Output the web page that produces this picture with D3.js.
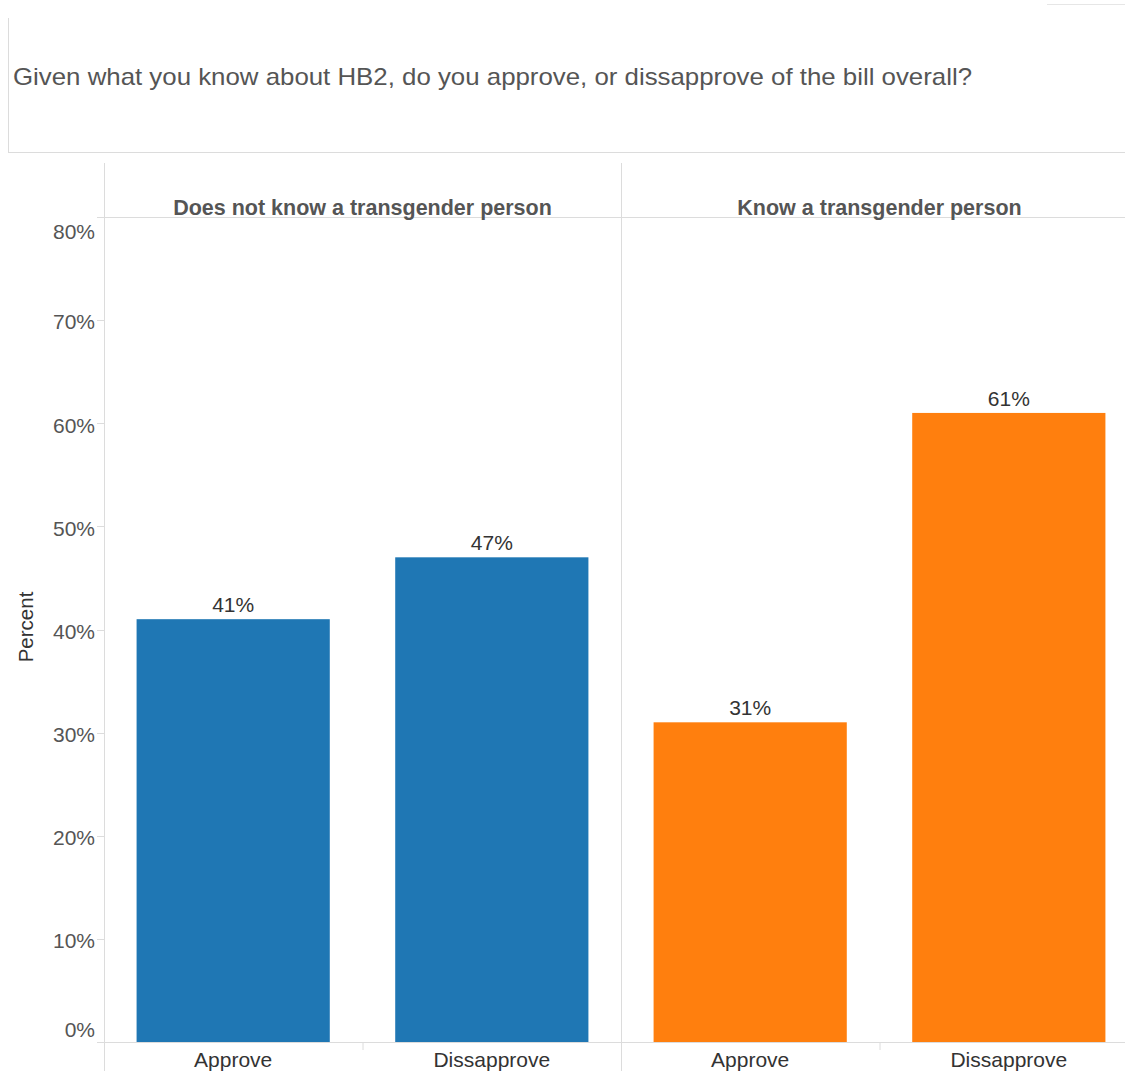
<!DOCTYPE html>
<html>
<head>
<meta charset="utf-8">
<script src="https://cdn.jsdelivr.net/npm/d3@7"></script>
<style>
  html, body { margin: 0; padding: 0; background: #fff; }
  svg { display: block; font-family: "Liberation Sans", Arial, sans-serif; }
</style>
</head>
<body>
<svg id="chart" width="1125" height="1071"></svg>
<script>
// Survey question and panels
const title = "Given what you know about HB2, do you approve, or dissapprove of the bill overall?";
const panels = ["Does not know a transgender person", "Know a transgender person"];
const categories = ["Approve", "Dissapprove"];
const doesNotKnowValues = [41, 47];
const knowValues = [31, 61];
const panelValues = [doesNotKnowValues, knowValues];
const panelColors = ["#1f77b4", "#ff7f0e"];
const yTicks = [0, 10, 20, 30, 40, 50, 60, 70, 80];

(function draw() {
  const svg = d3.select("#chart");
  const gridColor = "#dcdcdc";

  // Title box
  svg.append("line").attr("x1", 8.5).attr("x2", 8.5).attr("y1", 18).attr("y2", 152)
    .attr("stroke", gridColor);
  svg.append("line").attr("x1", 8).attr("x2", 1125).attr("y1", 152.5).attr("y2", 152.5)
    .attr("stroke", gridColor);
  svg.append("line").attr("x1", 1047).attr("x2", 1125).attr("y1", 4.5).attr("y2", 4.5)
    .attr("stroke", "#e6e6e6");
  svg.append("text").attr("x", 13).attr("y", 85)
    .attr("font-size", 24).attr("fill", "#555")
    .attr("textLength", 959).attr("lengthAdjust", "spacingAndGlyphs")
    .text(title);

  // Plot geometry
  const plotLeft = 104, panelW = 517, plotTop = 217, plotBottom = 1042;
  const y = d3.scaleLinear().domain([0, 80]).range([plotBottom, plotTop]);
  const panelX = d3.scaleBand().domain(panels).range([plotLeft, plotLeft + panelW * 2]);
  const x = d3.scaleBand().domain(categories).range([0, panelW]).paddingInner(0.253).paddingOuter(0.126);

  // Y axis ticks and labels
  const yAxis = svg.append("g");
  yAxis.selectAll("line").data(yTicks).join("line")
    .attr("x1", 97).attr("x2", plotLeft)
    .attr("y1", d => Math.round(y(d)) + 0.5).attr("y2", d => Math.round(y(d)) + 0.5)
    .attr("stroke", gridColor);
  yAxis.selectAll("text").data(yTicks).join("text")
    .attr("x", 95)
    .attr("y", d => d === 0 ? y(d) - 12 : d === 80 ? y(d) + 15 : y(d) + 2)
    .attr("dy", "0.35em")
    .attr("text-anchor", "end")
    .attr("font-size", 21).attr("fill", "#555")
    .text(d => d + "%");

  svg.append("text")
    .attr("transform", `translate(33, 627) rotate(-90)`)
    .attr("text-anchor", "middle")
    .attr("font-size", 20.5).attr("fill", "#333")
    .text("Percent");

  // Frame lines
  svg.append("line").attr("x1", plotLeft + 0.5).attr("x2", plotLeft + 0.5).attr("y1", 163).attr("y2", 1071)
    .attr("stroke", gridColor);
  svg.append("line").attr("x1", 97).attr("x2", 1125).attr("y1", plotTop + 0.5).attr("y2", plotTop + 0.5)
    .attr("stroke", gridColor);

  // Panels
  panels.forEach((p, i) => {
    const g = svg.append("g").attr("transform", `translate(${panelX(p)},0)`);
    const vals = panelValues[i];

    g.append("text")
      .attr("x", panelW / 2).attr("y", 215)
      .attr("text-anchor", "middle")
      .attr("font-size", 21.5).attr("font-weight", "bold").attr("fill", "#555")
      .text(p);

    g.selectAll("rect").data(categories).join("rect")
      .attr("x", d => x(d))
      .attr("width", x.bandwidth())
      .attr("y", (d, j) => y(vals[j]))
      .attr("height", (d, j) => y(0) - y(vals[j]))
      .attr("fill", panelColors[i]);

    g.selectAll("text.val").data(categories).join("text")
      .attr("class", "val")
      .attr("x", d => x(d) + x.bandwidth() / 2)
      .attr("y", (d, j) => y(vals[j]) - 7)
      .attr("text-anchor", "middle")
      .attr("font-size", 21).attr("fill", "#333")
      .text((d, j) => vals[j] + "%");

    g.selectAll("text.cat").data(categories).join("text")
      .attr("class", "cat")
      .attr("x", d => x(d) + x.bandwidth() / 2)
      .attr("y", 1067)
      .attr("text-anchor", "middle")
      .attr("font-size", 21).attr("fill", "#333")
      .text(d => d);

    // divider tick between categories
    g.append("line")
      .attr("x1", panelW / 2 + 0.5).attr("x2", panelW / 2 + 0.5)
      .attr("y1", plotBottom).attr("y2", plotBottom + 8)
      .attr("stroke", gridColor);

    if (i > 0) {
      g.append("line").attr("x1", 0.5).attr("x2", 0.5).attr("y1", 163).attr("y2", 1071)
        .attr("stroke", gridColor);
    }
  });

  // Baseline
  svg.append("line").attr("x1", 97).attr("x2", 1125)
    .attr("y1", plotBottom + 0.5).attr("y2", plotBottom + 0.5)
    .attr("stroke", gridColor);
})();
</script>
</body>
</html>
